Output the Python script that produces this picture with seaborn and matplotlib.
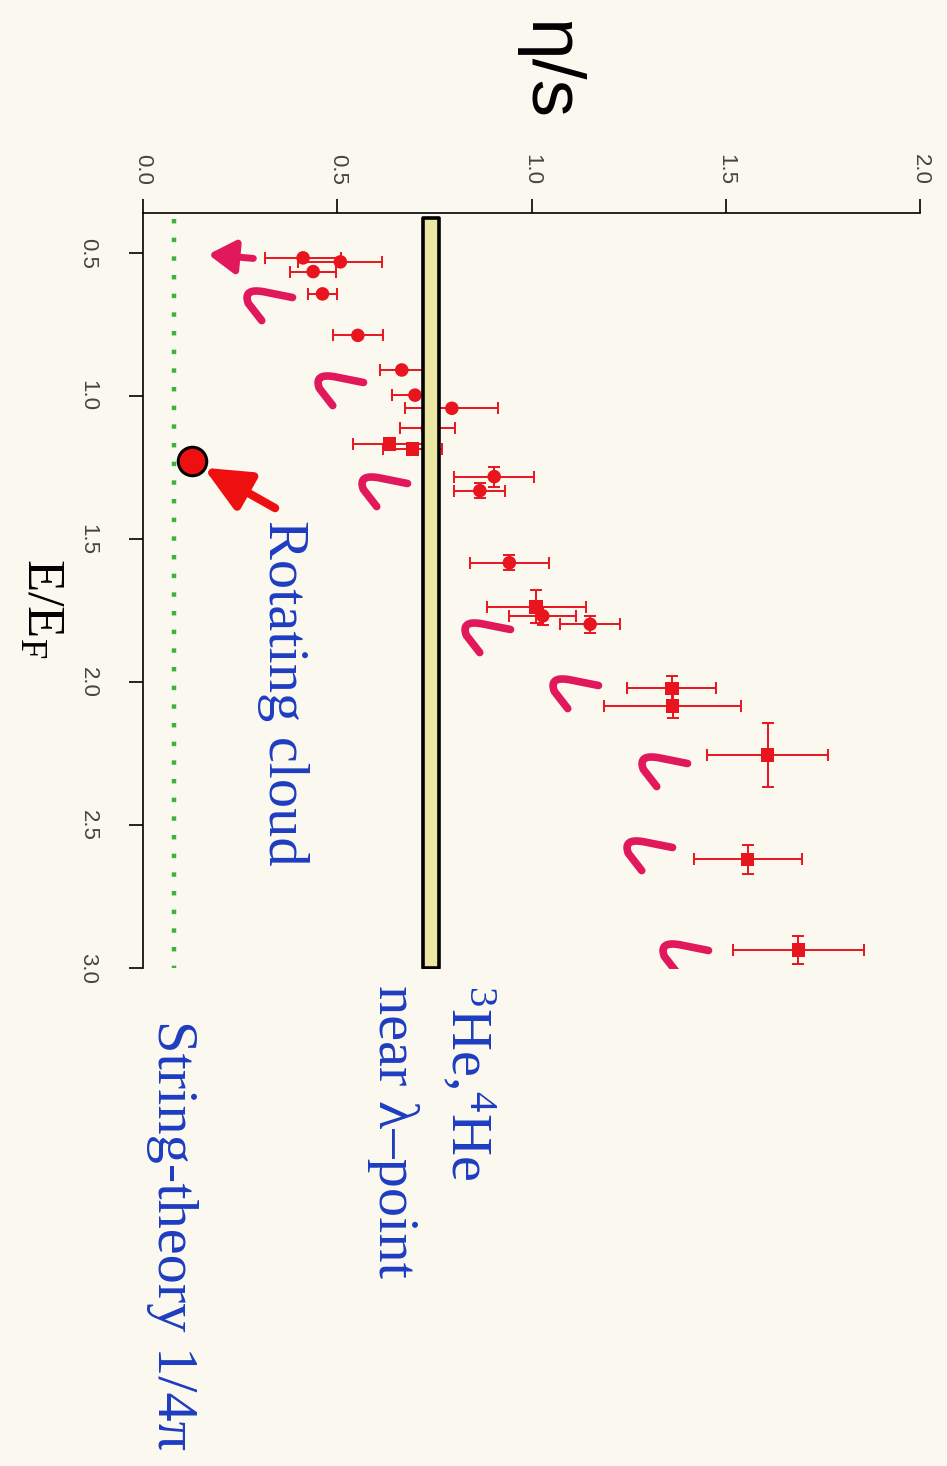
import numpy as np
import pandas as pd
import matplotlib
matplotlib.use("Agg")
import matplotlib.pyplot as plt
import seaborn as sns
from matplotlib.path import Path
from matplotlib.markers import MarkerStyle

# ---------------- data (original orientation: x = E/E_F, y = eta/s) ----------------
E_EF = [0.517, 0.531, 0.565, 0.643, 0.788, 0.909, 0.997, 1.043, 1.113, 1.168, 1.186,
        1.282, 1.331, 1.583, 1.737, 1.769, 1.798, 2.022, 2.084, 2.255, 2.620, 2.937]
eta_s = [0.412, 0.508, 0.438, 0.462, 0.553, 0.666, 0.700, 0.795, 0.732, 0.634, 0.694,
         0.904, 0.867, 0.943, 1.012, 1.029, 1.151, 1.361, 1.363, 1.608, 1.556, 1.687]
eta_err = [0.098, 0.108, 0.060, 0.037, 0.065, 0.055, 0.060, 0.120, 0.071, 0.094, 0.075,
           0.103, 0.066, 0.102, 0.127, 0.086, 0.077, 0.115, 0.177, 0.156, 0.139, 0.168]
E_err = [np.nan] * 11 + [0.035, 0.026, 0.026, 0.058, 0.030, 0.030, 0.043, 0.043, 0.111, 0.050, 0.050]
marker_kind = ["o"] * 9 + ["s", "s"] + ["o", "o", "o", "s", "o", "o", "s", "s", "s", "s", "s"]

cloud_E = [1.227]
cloud_eta = [0.125]

string_theory = 1 / (4 * np.pi)
helium_band = (0.720, 0.762)
helium_E = (0.378, 3.0)

# hand-drawn hooks (right end of stroke)
hook_E = [0.655, 0.950, 1.305, 1.815, 2.010, 2.282, 2.578, 2.937]
hook_eta = [0.383, 0.566, 0.679, 0.945, 1.172, 1.400, 1.361, 1.455]
first_arrow_E = (0.519, 0.505)
first_arrow_eta = (0.284, 0.168)

xticks = [0.0, 0.5, 1.0, 1.5, 2.0]
yticks = [0.5, 1.0, 1.5, 2.0, 2.5, 3.0]

df = pd.DataFrame({"E": E_EF, "eta": eta_s, "xe": eta_err, "ye": E_err, "m": marker_kind})

# ---------------- style ----------------
BG = "#faf8ef"
RED = "#e8141e"
PINK = "#e2185c"
BLUE = "#1e3cc0"
GREEN = "#3cb43c"

sns.set_theme(style="white")
plt.rcParams["font.family"] = ["Liberation Sans", "DejaVu Sans"]
plt.rcParams["mathtext.fontset"] = "custom"
plt.rcParams["mathtext.rm"] = "Liberation Serif"
plt.rcParams["mathtext.it"] = "Liberation Serif:italic"

W, H = 947, 1466
fig = plt.figure(figsize=(W / 100, H / 100), dpi=100, facecolor=BG)

def fx(px):
    return px / W

def fy(py):
    return 1 - py / H

x0_px, x2_px = 143, 920
top_px, bot_px = 213, 968
ax = fig.add_axes([fx(x0_px), fy(bot_px), fx(x2_px - x0_px), (bot_px - top_px) / H])
ax.set_facecolor(BG)

E_top = 0.5 - (253 - top_px) / 286

# spines
for s in ["right", "bottom"]:
    ax.spines[s].set_visible(False)
for s in ["top", "left"]:
    ax.spines[s].set_color("black")
    ax.spines[s].set_linewidth(1.2)

# string theory dotted line
ax.plot([string_theory, string_theory], [0.38, 3.0], color=GREEN, lw=3.2,
        linestyle=(0, (1, 3.2)), zorder=2)

# error bars
ax.errorbar(df["eta"], df["E"], xerr=df["xe"], yerr=df["ye"], fmt="none", ecolor=RED,
            elinewidth=1.4, capsize=4.5, capthick=1.4, zorder=3)

# data points
sns.scatterplot(data=df, x="eta", y="E", style="m", markers={"o": "o", "s": "s"},
                color=RED, s=95, edgecolor="none", legend=False, ax=ax, zorder=4)

# helium band (drawn on top of error bars)
ax.fill_betweenx([helium_E[0], helium_E[1]], helium_band[0], helium_band[1],
                 facecolor="#ece6a4", edgecolor="black", linewidth=2.6, zorder=5)

# rotating cloud point
sns.scatterplot(x=cloud_eta, y=cloud_E, color="#ee1010", s=420, edgecolor="black",
                linewidth=2.2, legend=False, ax=ax, zorder=7, clip_on=False)
ax.annotate("", xy=(cloud_eta[0], cloud_E[0]), xytext=(0.340, 1.392),
            arrowprops=dict(arrowstyle="-|>,head_length=1.1,head_width=0.5", lw=6,
                            mutation_scale=25, color="#ee1010", shrinkA=0, shrinkB=10),
            zorder=6)

# hand-drawn hooks
hook_path = Path([(0, 0), (-30, 6), (-52, 10), (-46, -6), (-32, -24)],
                 [Path.MOVETO, Path.LINETO, Path.CURVE3, Path.CURVE3, Path.LINETO])
hook_marker = MarkerStyle(hook_path, capstyle="round", joinstyle="round")
ax.plot(hook_eta, hook_E, linestyle="none", marker=hook_marker, ms=72, mfc="none",
        mec=PINK, mew=5.5, zorder=6)
ax.annotate("", xy=(first_arrow_eta[1], first_arrow_E[1]),
            xytext=(first_arrow_eta[0], first_arrow_E[0]),
            arrowprops=dict(arrowstyle="-|>,head_length=0.8,head_width=0.5", lw=5,
                            mutation_scale=20, color=PINK, shrinkA=0, shrinkB=0,
                            capstyle="round"),
            zorder=6)

ax.set_xlim(0, 2.0)
ax.set_ylim(3.0, E_top)
ax.set_xlabel("")
ax.set_ylabel("")
ax.xaxis.tick_top()
ax.set_xticks(xticks)
ax.set_xticklabels([f"{t:.1f}" for t in xticks], rotation=-90, fontsize=16)
ax.set_yticks(yticks)
ax.set_yticklabels([f"{t:.1f}" for t in yticks], rotation=-90, fontsize=16, va="center")
ax.tick_params(axis="x", which="both", top=True, bottom=False, direction="out", length=10,
               width=1.2, pad=10, colors="black", labelcolor="#444444")
ax.tick_params(axis="y", which="both", left=True, direction="out", length=10,
               width=1.2, pad=22, colors="black", labelcolor="#444444")
ax.grid(False)

# ---------------- texts ----------------
serif = ["Liberation Serif", "DejaVu Serif"]
fig.text(fx(548), fy(70), "η/s", rotation=-90, ha="center", va="center", fontsize=54,
         color="black", family=["Liberation Sans", "DejaVu Sans"])
fig.text(fx(40), fy(608), "E/E$_\\mathrm{F}$", rotation=-90, ha="center", va="center",
         fontsize=38, color="black", family=serif)
fig.text(fx(283), fy(520), "Rotating cloud", rotation=-90, ha="center", va="top",
         fontsize=42, color=BLUE, family=serif)
fig.text(fx(467), fy(985), "$^{3}$He,$^{4}$He", rotation=-90, ha="center", va="top",
         fontsize=42, color=BLUE, family=serif)
fig.text(fx(393), fy(985), "near λ–point", rotation=-90, ha="center", va="top",
         fontsize=42, color=BLUE, family=serif)
fig.text(fx(172), fy(1020), "String-theory 1/4π", rotation=-90, ha="center", va="top",
         fontsize=42, color=BLUE, family=serif)

fig.savefig("out.png", dpi=100, facecolor=BG)
